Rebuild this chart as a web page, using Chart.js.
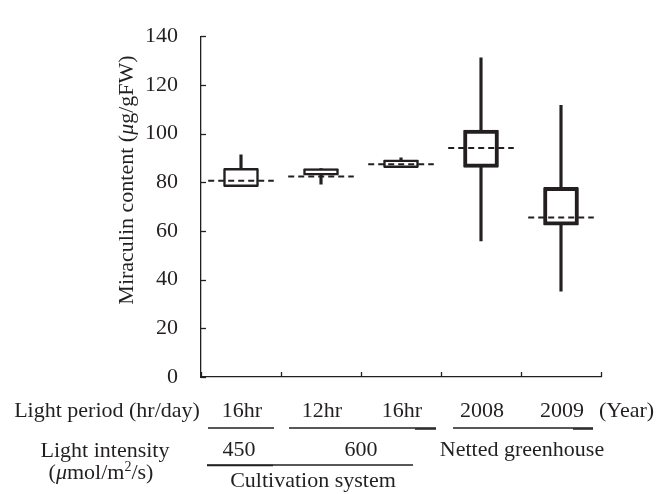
<!DOCTYPE html>
<html><head><meta charset="utf-8">
<script src="https://cdn.jsdelivr.net/npm/chart.js@4/dist/chart.umd.min.js"></script>
<style>html,body{margin:0;padding:0;background:#fff;} #c{display:block;}</style>
</head><body>
<canvas id="c" width="656" height="494"></canvas>
<script>
// ---- data ----
const categories = ['16hr', '12hr', '16hr', '2008', '2009'];
const whiskerLow  = [78.2, 79.2, 86.0, 55.9, 35.3];
const boxLow      = [78.2, 82.9, 86.0, 86.1, 62.4];
const boxHigh     = [85.7, 85.6, 89.2, 101.4, 77.9];
const whiskerHigh = [91.3, 85.6, 90.0, 131.1, 111.6];
const means       = [80.6, 82.4, 87.4, 94.1, 65.5];
const yTickValues = [0, 20, 40, 60, 80, 100, 120, 140];
const yTitleRuns = [{t:'Miraculin content ('},{t:'\u03bc',i:true},{t:'g/gFW)'}];
const periodLabel = 'Light period (hr/day)';
const yearLabel = '(Year)';
const intensityLabel = 'Light intensity';
const intensityUnitRuns = [{t:'('},{t:'\u03bc',i:true},{t:'mol/m'},{t:'2',s:true},{t:'/s)'}];
const intensityGroups = ['450', '600', 'Netted greenhouse'];
const systemLabel = 'Cultivation system';

const INK = '#231f20';
const FONT = '"Liberation Serif", "DejaVu Serif", serif';
const FS = 22;

function runsWidth(ctx, runs) {
  let w = 0;
  runs.forEach(r => { ctx.font = fontFor(r); w += ctx.measureText(r.t).width; });
  return w;
}
function fontFor(r) {
  const size = r.s ? Math.round(FS * 0.65) : FS;
  return (r.i ? 'italic ' : '') + size + 'px ' + FONT;
}
function drawRuns(ctx, runs, cx, baseline) {
  let x = cx - runsWidth(ctx, runs) / 2;
  ctx.textAlign = 'left';
  ctx.textBaseline = 'alphabetic';
  runs.forEach(r => {
    ctx.font = fontFor(r);
    ctx.fillText(r.t, x, r.s ? baseline - FS * 0.38 : baseline);
    x += ctx.measureText(r.t).width;
  });
}
function hline(ctx, x1, x2, y, w) {
  ctx.beginPath(); ctx.lineWidth = w || 1.3; ctx.moveTo(x1, y); ctx.lineTo(x2, y); ctx.stroke();
}

const decor = {
  id: 'decor',
  afterDatasetsDraw(chart) {
    const ctx = chart.ctx, xs = chart.scales.x, ys = chart.scales.y, ca = chart.chartArea;
    ctx.save();
    ctx.strokeStyle = INK; ctx.fillStyle = INK;
    // mean dashed lines
    const step = xs.getPixelForValue(1) - xs.getPixelForValue(0);
    ctx.setLineDash([6, 4]);
    ctx.lineWidth = 2;
    means.forEach((m, i) => {
      const cx = xs.getPixelForValue(i), y = ys.getPixelForValue(m);
      ctx.beginPath();
      ctx.moveTo(cx - step * 0.41, y); ctx.lineTo(cx + step * 0.41, y); ctx.stroke();
    });
    ctx.setLineDash([]);
    // inward tick marks
    ctx.lineWidth = 1.3;
    yTickValues.forEach(v => {
      const y = Math.round(ys.getPixelForValue(v)) + 0.5;
      hline(ctx, ca.left, ca.left + 5, y, 1.3);
    });
    for (let i = 0; i <= categories.length; i++) {
      const x = Math.round(xs.getPixelForValue(i - 0.5)) + 0.5;
      ctx.beginPath(); ctx.moveTo(x, ca.bottom); ctx.lineTo(x, ca.bottom - 5); ctx.stroke();
    }
    // y title
    ctx.save();
    ctx.translate(126, 180);
    ctx.rotate(-Math.PI / 2);
    drawRuns(ctx, yTitleRuns, 0, 7);
    ctx.restore();
    // bottom rows
    ctx.font = FS + 'px ' + FONT;
    ctx.textBaseline = 'alphabetic';
    ctx.textAlign = 'center';
    ctx.fillText(periodLabel, 107, 417);
    categories.forEach((c, i) => ctx.fillText(c, xs.getPixelForValue(i) + 1, 417));
    ctx.textAlign = 'left';
    ctx.fillText(yearLabel, 599, 417);
    // row 1 underlines
    const c0 = xs.getPixelForValue(0);
    hline(ctx, c0 - 33, c0 + 33, 428);
    hline(ctx, 289, 436, 428);
    hline(ctx, 415, 436, 429, 1.5);
    hline(ctx, 453, 593, 428);
    hline(ctx, 573, 593, 429, 1.5);
    // row 2
    ctx.textAlign = 'center';
    ctx.fillText(intensityLabel, 105, 457);
    ctx.fillText(intensityGroups[0], xs.getPixelForValue(0) - 2, 456);
    ctx.fillText(intensityGroups[1], xs.getPixelForValue(1.5), 456);
    ctx.fillText(intensityGroups[2], xs.getPixelForValue(3.5) + 1, 456);
    hline(ctx, 207, 413, 465);
    hline(ctx, 207, 273, 465.5, 1.5);
    drawRuns(ctx, intensityUnitRuns, 101, 479);
    ctx.font = FS + 'px ' + FONT;
    ctx.textAlign = 'center';
    ctx.fillText(systemLabel, 313, 487);
    ctx.restore();
  }
};

new Chart(document.getElementById('c'), {
  type: 'bar',
  data: {
    labels: categories,
    datasets: [
      {
        label: 'box',
        data: boxLow.map((v, i) => [v, boxHigh[i]]),
        backgroundColor: '#ffffff',
        borderColor: INK,
        borderWidth: [2.5, 2.5, 2.5, 4, 4],
        borderSkipped: false,
        borderRadius: 1,
        barThickness: 35,
        grouped: false,
        order: 0
      },
      {
        label: 'lower whisker',
        data: whiskerLow.map((v, i) => [v, boxLow[i]]),
        backgroundColor: INK,
        borderWidth: 0,
        barThickness: 2.5,
        grouped: false,
        order: 1
      },
      {
        label: 'upper whisker',
        data: boxHigh.map((v, i) => [v, whiskerHigh[i]]),
        backgroundColor: INK,
        borderWidth: 0,
        barThickness: 2.5,
        grouped: false,
        order: 1
      }
    ]
  },
  options: {
    responsive: false,
    animation: false,
    devicePixelRatio: 1,
    layout: { padding: { left: 0, right: 55, top: 20, bottom: 0 } },
    plugins: { legend: { display: false }, tooltip: { enabled: false }, title: { display: false } },
    scales: {
      x: {
        offset: true,
        grid: { display: false, drawTicks: false },
        border: { display: true, color: INK, width: 1.3 },
        ticks: { display: false },
        afterFit(s) { s.height = 117; }
      },
      y: {
        min: 0, max: 140,
        afterBuildTicks(s) { s.ticks = yTickValues.map(v => ({ value: v })); },
        grid: { display: false, drawTicks: false },
        border: { display: true, color: INK, width: 1.3 },
        ticks: { padding: 23, color: INK, font: { family: FONT, size: 22 } },
        afterFit(s) { s.width = 201; }
      }
    }
  },
  plugins: [decor]
});
</script>
</body></html>
